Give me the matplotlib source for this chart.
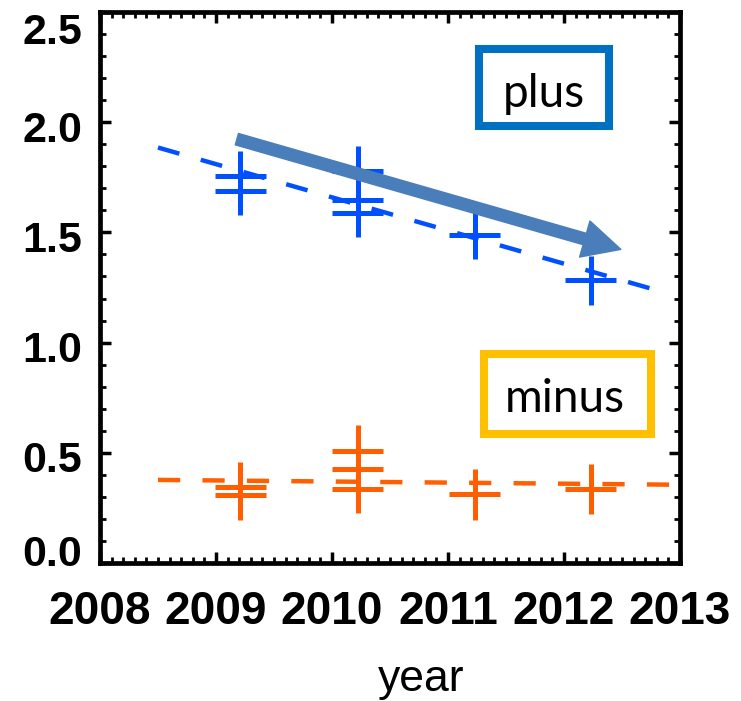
import matplotlib.pyplot as plt
import matplotlib.transforms as mtransforms
from matplotlib.patches import Rectangle, FancyArrowPatch
from matplotlib.ticker import MultipleLocator

# "plus" measurements (blue)
plus_x = [2009.21, 2009.21, 2010.22, 2010.22, 2010.22, 2011.23, 2012.23]
plus_y = [1.755, 1.69, 1.777, 1.645, 1.59, 1.486, 1.282]
plus_err = [0.115, 0.11, 0.113, 0.113, 0.113, 0.107, 0.11]

# "minus" measurements (orange)
minus_x = [2009.21, 2009.21, 2010.22, 2010.22, 2010.22, 2011.23, 2012.23]
minus_y = [0.345, 0.31, 0.509, 0.427, 0.336, 0.311, 0.337]
minus_err = [0.114, 0.115, 0.118, 0.115, 0.109, 0.116, 0.113]

year_err = 0.22

# fitted trend lines
plus_fit_x = [2008.5, 2012.85]
plus_fit_y = [1.885, 1.23]
minus_fit_x = [2008.5, 2013.0]
minus_fit_y = [0.377, 0.355]

# arrow (tail -> head)
arrow_x = [2009.18, 2012.49]
arrow_y = [1.923, 1.423]

xticks = [2008, 2009, 2010, 2011, 2012, 2013]
yticks = [0.0, 0.5, 1.0, 1.5, 2.0, 2.5]

blue = "#0050FF"
orange = "#FF5F00"

fig = plt.figure(figsize=(7.41, 7.01), dpi=100)
ax = fig.add_axes([100 / 741, 138 / 701, 580 / 741, 551 / 701])

ax.plot(plus_fit_x, plus_fit_y, color=blue, lw=3.2, linestyle=(0, (5.0, 5.0)))
ax.plot(minus_fit_x, minus_fit_y, color=orange, lw=3.2, linestyle=(0, (5.0, 5.0)))

ax.errorbar(plus_x, plus_y, yerr=plus_err, xerr=year_err, fmt="none",
            ecolor=blue, elinewidth=3.6, capsize=0)
ax.errorbar(minus_x, minus_y, yerr=minus_err, xerr=year_err, fmt="none",
            ecolor=orange, elinewidth=3.6, capsize=0)

arr = FancyArrowPatch((arrow_x[0], arrow_y[0]), (arrow_x[1], arrow_y[1]),
                      arrowstyle="simple,head_length=2.7,head_width=2.7,tail_width=0.85",
                      mutation_scale=10, color="#4A7EBB", shrinkA=0, shrinkB=0, zorder=5)
ax.add_patch(arr)

# labelled boxes
ax.add_patch(Rectangle((0.653, 0.793), 0.224, 0.140, transform=ax.transAxes,
                       fill=False, edgecolor="#0070C0", lw=5.8, zorder=6))
ax.text(0.765, 0.828, "plus", transform=ax.transAxes, ha="center", va="baseline",
        fontsize=33, family="Lato", zorder=7)
ax.add_patch(Rectangle((0.662, 0.234), 0.288, 0.145, transform=ax.transAxes,
                       fill=False, edgecolor="#FFC000", lw=5.8, zorder=6))
ax.text(0.802, 0.274, "minus", transform=ax.transAxes, ha="center", va="baseline",
        fontsize=33, family="Lato", zorder=7)

ax.set_xlim(2008, 2013)
ax.set_ylim(0, 2.5)
ax.set_xticks(xticks)
ax.set_xticklabels([str(t) for t in xticks], fontsize=33, fontweight="bold",
                   family="Liberation Sans")
ax.set_yticks(yticks)
ax.set_yticklabels(["%.1f" % t for t in yticks], fontsize=31, fontweight="bold",
                   family="Liberation Sans")
ax.xaxis.set_minor_locator(MultipleLocator(0.1))
ax.yaxis.set_minor_locator(MultipleLocator(0.1))
ax.tick_params(which="both", direction="in", top=True, right=True)
ax.tick_params(which="major", length=8, width=2.5)
ax.tick_params(which="minor", length=4, width=2)
ax.tick_params(axis="x", which="major", pad=19.5)
ax.tick_params(axis="y", which="major", pad=13)
for s in ax.spines.values():
    s.set_linewidth(3.4)

# end labels of the y axis sit inside the frame, the rest slightly low
shifts = [13, -4, -4, -4, -4, -16]
for lab, dy in zip(ax.get_yticklabels(), shifts):
    lab.set_transform(lab.get_transform() +
                      mtransforms.ScaledTranslation(0, dy / 100, fig.dpi_scale_trans))

ax.set_xlabel("year", fontsize=32, family="Liberation Sans")
ax.xaxis.set_label_coords(0.553, -0.232)
ax.xaxis.label.set_va("baseline")

fig.savefig("out.png", dpi=100)
